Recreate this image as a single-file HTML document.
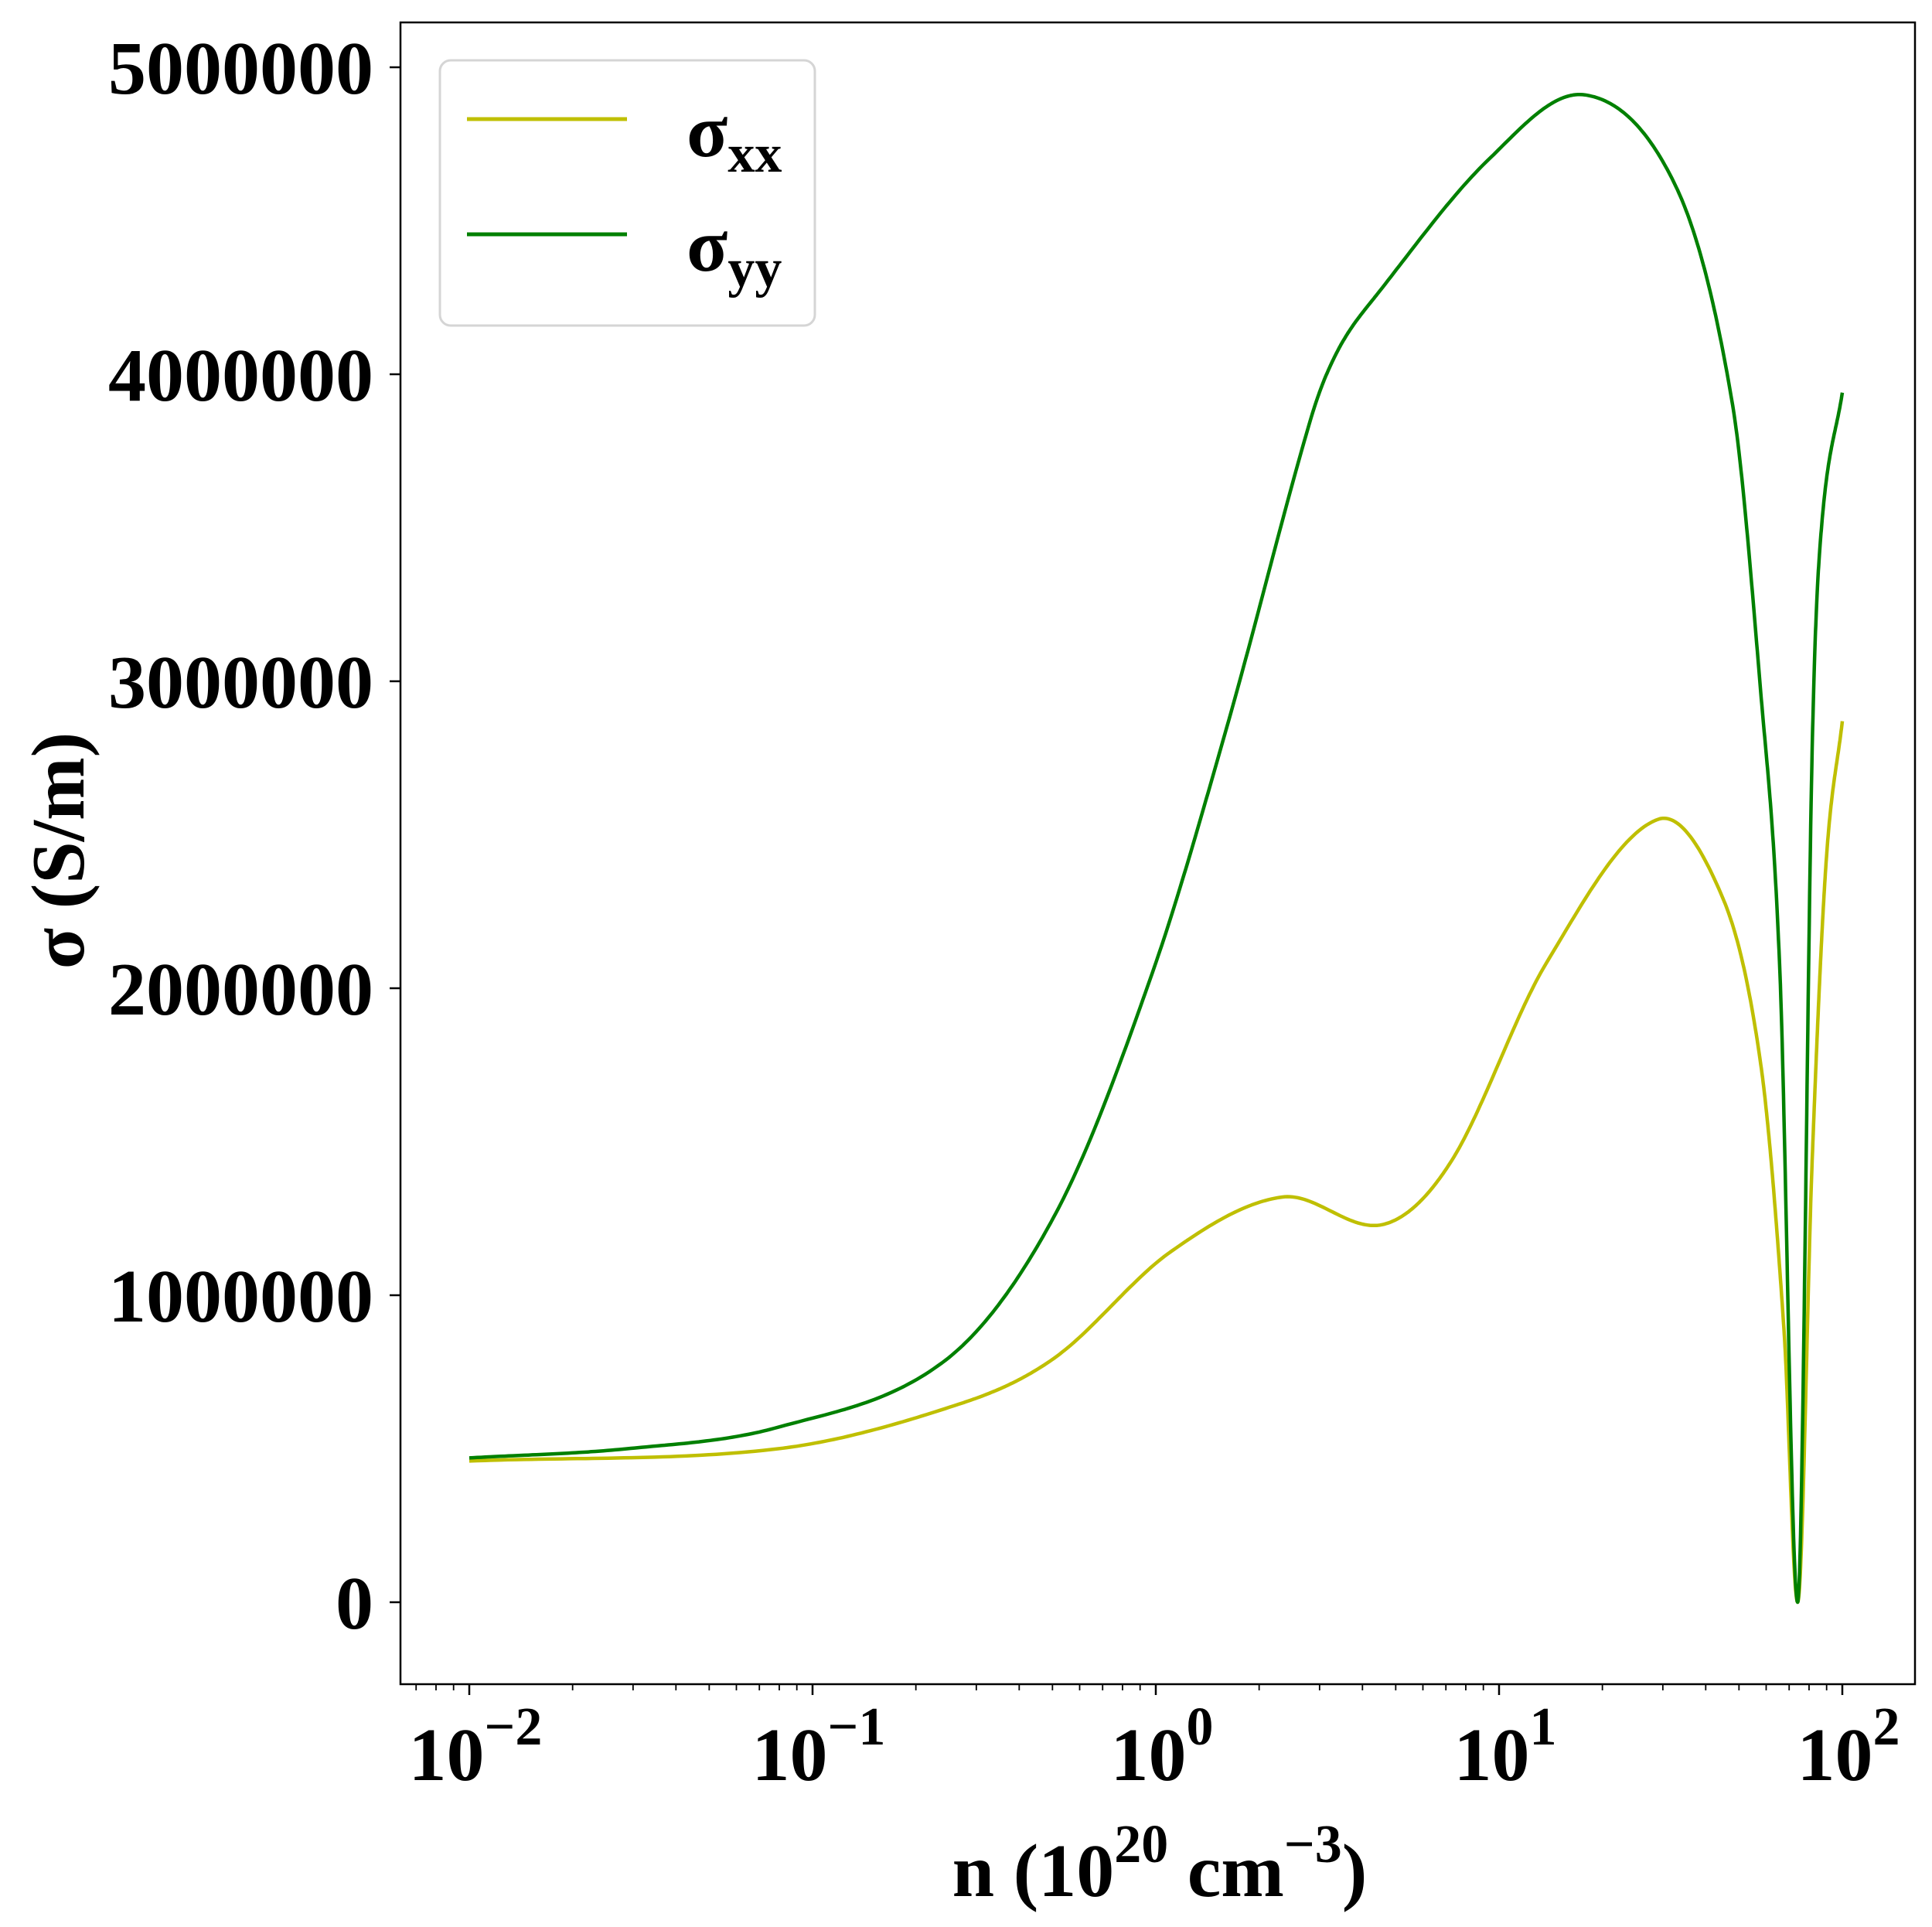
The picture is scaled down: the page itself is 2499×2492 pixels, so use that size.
<!DOCTYPE html>
<html><head><meta charset="utf-8"><style>
html,body{margin:0;padding:0;background:#fff;}
svg{display:block;font-family:"Liberation Serif","Times New Roman",serif;font-weight:bold;}
</style></head><body>
<svg id="chart" width="2499" height="2492" viewBox="0 0 2499 2492" xmlns="http://www.w3.org/2000/svg">
<g id="grid-layer"></g>
<g id="series-layer"></g>
<rect x="518" y="29" width="1959" height="2149" fill="none" stroke="#000" stroke-width="2.5"/>
<g id="axis-layer"></g>
<text x="0" y="0" transform="translate(108,1100) rotate(-90)" text-anchor="middle" font-size="98">σ (S/m)</text>
<text x="1500" y="2452" text-anchor="middle" font-size="98">n (10<tspan dy="-44" font-size="70">20</tspan><tspan dy="44"> cm</tspan><tspan dy="-44" font-size="70">−3</tspan><tspan dy="44">)</tspan></text>
<g>
<rect x="569" y="78" width="485" height="343" rx="14" fill="#fff" stroke="#d5d5d5" stroke-width="3"/>
<line x1="604" y1="154" x2="811" y2="154" stroke="#bfbf00" stroke-width="5"/>
<text x="888" y="202" font-size="98">σ<tspan font-size="70" dy="20">xx</tspan></text>
<line x1="604" y1="303" x2="811" y2="303" stroke="#008000" stroke-width="5"/>
<text x="888" y="350" font-size="98">σ<tspan font-size="70" dy="20">yy</tspan></text>
</g>
</svg>
<script>
const nXX = [0.01, 0.0794, 0.275, 0.513, 1.10, 2.34, 4.57, 7.29, 13.7, 29.0, 45.0, 57.9, 67.6, 74.1, 81.7, 89.7, 100];
const sigmaXX = [460000, 500000, 650000, 800000, 1140000, 1320000, 1230000, 1440000, 2080000, 2550000, 2290000, 1750000, 890000, 0, 1440000, 2410000, 2870000];
const nYY = [0.01, 0.0288, 0.0794, 0.245, 0.513, 0.977, 1.61, 2.82, 3.4, 4.41, 9.33, 17.8, 32.8, 47.9, 57.9, 65.8, 74.1, 81.7, 87.1, 100];
const sigmaYY = [470000, 500000, 570000, 790000, 1270000, 2050000, 2850000, 3850000, 4080000, 4260000, 4700000, 4910000, 4610000, 3900000, 2960000, 2050000, 0, 2780000, 3510000, 3940000];
const yTicks = [0, 1000000, 2000000, 3000000, 4000000, 5000000];
const yTickLabels = ["0", "1000000", "2000000", "3000000", "4000000", "5000000"];
const xDecades = [-2, -1, 0, 1, 2];
const xTickExps = ["−2", "−1", "0", "1", "2"];

const NS = "http://www.w3.org/2000/svg";
const X0 = 607, DEC = 444, Y0 = 2072, PER = 397 / 1e6;
const L = 518, R = 2477, B = 2178;
function xs(n) { return X0 + (Math.log10(n) + 2) * DEC; }
function ys(v) { return Y0 - v * PER; }
function mk(tag, attrs, parent) {
  const e = document.createElementNS(NS, tag);
  for (const k in attrs) e.setAttribute(k, attrs[k]);
  parent.appendChild(e);
  return e;
}
const axis = document.getElementById('axis-layer');
const series = document.getElementById('series-layer');

yTicks.forEach((v, i) => {
  const y = ys(v);
  const t = mk('line', {x1: L - 14, y1: y, x2: L, y2: y, stroke: '#000', 'stroke-width': 2.5}, axis);
  
  
  const lb = mk('text', {x: 483, y: y + 34, 'text-anchor': 'end', 'font-size': 98}, axis);
  lb.textContent = yTickLabels[i];
  
  
});

for (let d = -3; d <= 2; d++) {
  for (let m = 1; m <= 9; m++) {
    const n = m * Math.pow(10, d);
    const x = xs(n);
    if (x < L || x > R) continue;
    const major = m === 1;
    const t = mk('line', {x1: x, y1: B, x2: x, y2: B + (major ? 14 : 8), stroke: '#000', 'stroke-width': major ? 2.5 : 1.8}, axis);
    
    
  }
}
xDecades.forEach((d, i) => {
  const x = xs(Math.pow(10, d));
  const lb = mk('text', {x: x + 8, y: 2302, 'text-anchor': 'middle', 'font-size': 98}, axis);
  
  
  const a = document.createElementNS(NS, 'tspan'); a.textContent = '10'; lb.appendChild(a);
  const b = document.createElementNS(NS, 'tspan'); b.setAttribute('dy', '-46'); b.setAttribute('font-size', '70'); b.textContent = xTickExps[i]; lb.appendChild(b);
});

function smoothPath(ns, vs) {
  const px = ns.map(n => Math.log10(n)), py = vs;
  const k = px.length, m = new Array(k);
  for (let i = 0; i < k; i++) {
    if (i === 0) m[i] = (py[1] - py[0]) / (px[1] - px[0]);
    else if (i === k - 1) m[i] = (py[k - 1] - py[k - 2]) / (px[k - 1] - px[k - 2]);
    else if (py[i] === 0) m[i] = 0;
    else m[i] = (py[i + 1] - py[i - 1]) / (px[i + 1] - px[i - 1]);
  }
  let d = '';
  for (let i = 0; i < k - 1; i++) {
    const h = px[i + 1] - px[i];
    for (let s = 0; s <= 40; s++) {
      if (i > 0 && s === 0) continue;
      const t = s / 40, t2 = t * t, t3 = t2 * t;
      const v = (2 * t3 - 3 * t2 + 1) * py[i] + (t3 - 2 * t2 + t) * h * m[i] + (-2 * t3 + 3 * t2) * py[i + 1] + (t3 - t2) * h * m[i + 1];
      const lx = px[i] + t * h;
      const X = X0 + (lx + 2) * DEC, Y = ys(Math.max(0, v));
      d += (d ? 'L' : 'M') + X.toFixed(1) + ',' + Y.toFixed(1);
    }
  }
  return d;
}
const pxx = mk('path', {d: smoothPath(nXX, sigmaXX), fill: 'none', stroke: '#bfbf00', 'stroke-width': 4.5, 'stroke-linejoin': 'round'}, series);


const pyy = mk('path', {d: smoothPath(nYY, sigmaYY), fill: 'none', stroke: '#008000', 'stroke-width': 4.5, 'stroke-linejoin': 'round'}, series);


</script>
</body></html>
